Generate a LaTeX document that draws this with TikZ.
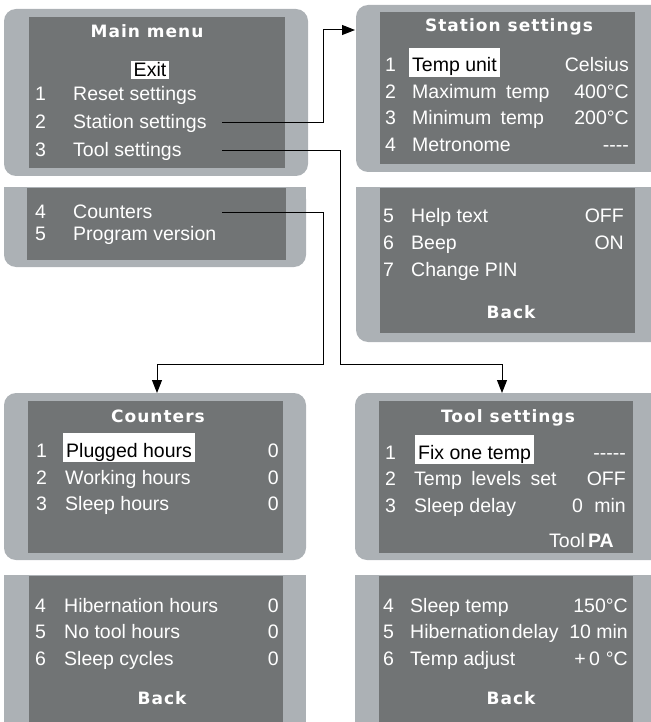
\documentclass[tikz,border=0pt]{standalone}
\usepackage{fontspec}
\setmainfont{Liberation Sans}
\newfontfamily\titlefont{DejaVu Sans}[LetterSpace=6]
\usepackage{tikz}
\usetikzlibrary{arrows.meta, positioning}
\definecolor{bezelgrey}{HTML}{ACB1B5}
\definecolor{lcdgrey}{HTML}{717475}

\begin{document}
\begin{tikzpicture}[x=1pt, y=-1pt,
    bezel/.style={fill=bezelgrey, rounded corners=12pt},
    lcd/.style={fill=lcdgrey},
    ttl/.style={text=white, anchor=base, inner sep=0pt,
                font=\titlefont\bfseries\fontsize{17}{17}\selectfont},
    itm/.style={text=white, anchor=base west, inner sep=0pt,
                font=\fontsize{19.5}{20}\selectfont},
    val/.style={itm, anchor=base east},
    sel/.style={itm, fill=white, text=black, inner xsep=3pt, inner ysep=0pt,
                text height=24pt, text depth=5pt},
    exitsel/.style={sel, anchor=base, text height=16pt, text depth=2pt},
    link/.style={draw=black, line width=1pt},
    tip/.style={-{Triangle[length=13pt, width=10pt]}}]
  \useasboundingbox (0,0) rectangle (650,722);

  % frames
  \fill[bezel] (4,9) rectangle (308,176);
  \fill[lcd] (29,17) rectangle (285,168);
  \fill[bezel] (4,187) rectangle (306,267);
  \fill[bezelgrey] (4,187) rectangle (306,215);
  \fill[lcd] (27,188) rectangle (286,260);

  \fill[bezel] (356,5) rectangle (670,172);
  \fill[lcd] (380,12) rectangle (635,164);
  \fill[bezel] (356,187) rectangle (670,342);
  \fill[bezelgrey] (356,187) rectangle (670,215);
  \fill[lcd] (380,188) rectangle (635,333);

  \fill[bezel] (4,393) rectangle (306,560);
  \fill[lcd] (28,401) rectangle (283,553);
  \fill[bezelgrey] (4,575) rectangle (306,730);
  \fill[lcd] (29,576) rectangle (283,730);

  \fill[bezel] (355,393) rectangle (670,560);
  \fill[lcd] (379,401) rectangle (633,553);
  \fill[bezelgrey] (355,575) rectangle (670,730);
  \fill[lcd] (379,576) rectangle (633,730);

  % main menu
  \node[ttl] (mmttl) at (147,38) {Main menu};
  \node[exitsel] (mmexit) at (150,77) {Exit};
  \foreach \n/\y/\t in {1/101/Reset settings, 2/129/Station settings,
      3/157/Tool settings, 4/218/Counters, 5/240/Program version} {
    \node[itm] (mmn\n) at (35,\y) {\n};
    \node[itm] (mml\n) at (73,\y) {\t};
  }

  % station settings
  \node[ttl] (stttl) at (509,32) {Station settings};
  \node[itm] (stn1) at (385,72) {1};
  \node[sel] (stl1) at (409,72) {Temp unit};
  \node[val] (stv1) at (629,72) {Celsius};
  \foreach \n/\y/\t/\v in {2/99/Maximum\hspace{4pt} temp/400°C,
      3/125/Minimum\hspace{4pt} temp/200°C, 4/152/Metronome/{-}{-}{-}{-}} {
    \node[itm] (stn\n) at (385,\y) {\n};
    \node[itm] (stl\n) at (412,\y) {\t};
    \node[val] (stv\n) at (629,\y) {\v};
  }
  \foreach \n/\y/\t/\v in {5/222/Help text/OFF, 6/249/Beep/ON, 7/276/Change PIN/} {
    \node[itm] (stn\n) at (383,\y) {\n};
    \node[itm] (stl\n) at (411,\y) {\t};
    \node[val] (stv\n) at (624,\y) {\v};
  }
  \node[ttl] (stback) at (511,318) {Back};

  % counters
  \node[ttl] (cnttl) at (158,422) {Counters};
  \node[itm] (cnn1) at (36,457) {1};
  \node[sel] (cnl1) at (63,457) {Plugged hours};
  \node[val] (cnv1) at (279,457) {0};
  \foreach \n/\y/\t in {2/484/Working hours, 3/510/Sleep hours} {
    \node[itm] (cnn\n) at (36,\y) {\n};
    \node[itm] (cnl\n) at (65,\y) {\t};
    \node[val] (cnv\n) at (279,\y) {0};
  }
  \foreach \n/\y/\t in {4/612/Hibernation hours, 5/638/No tool hours, 6/665/Sleep cycles} {
    \node[itm] (cnn\n) at (35,\y) {\n};
    \node[itm] (cnl\n) at (64,\y) {\t};
    \node[val] (cnv\n) at (279,\y) {0};
  }
  \node[ttl] (cnback) at (162,704) {Back};

  % tool settings
  \node[ttl] (tlttl) at (508,422) {Tool settings};
  \node[itm] (tln1) at (385,459) {1};
  \node[sel] (tll1) at (415,459) {Fix one temp};
  \node[val] (tlv1) at (626,459) {{-}{-}{-}{-}{-}};
  \foreach \n/\y/\t/\v in {2/485/Temp\hspace{4pt} levels\hspace{4pt} set/OFF,
      3/512/Sleep delay/0\hspace{6pt} min} {
    \node[itm] (tln\n) at (385,\y) {\n};
    \node[itm] (tll\n) at (414,\y) {\t};
    \node[val] (tlv\n) at (626,\y) {\v};
  }
  \node[val] (tlpa) at (614,547) {Tool\,{\bfseries PA}};
  \foreach \n/\y/\t/\v in {4/612/Sleep temp/150°C,
      5/638/Hibernation\hspace{2pt}delay/10 min,
      6/665/Temp adjust/+\,0\hspace{6pt}°C} {
    \node[itm] (tln\n) at (383,\y) {\n};
    \node[itm] (tll\n) at (410,\y) {\t};
    \node[val] (tlv\n) at (628,\y) {\v};
  }
  \node[ttl] (tlback) at (511,704) {Back};

  % links
  \coordinate (fromst) at (222,123);
  \coordinate (turnst) at (323,30);
  \coordinate (sttip) at (355,30);
  \coordinate (fromtl) at (222,151);
  \coordinate (turntl) at (340,364);
  \coordinate (tltip) at (502,393);
  \coordinate (fromcn) at (222,212);
  \coordinate (turncn) at (323,364);
  \coordinate (cntip) at (157,393);
  \draw[link, tip] (fromst) -| (turnst) -- (sttip);
  \draw[link, tip] (fromtl) -| (turntl) -| (tltip);
  \draw[link, tip] (fromcn) -| (turncn) -| (cntip);
\end{tikzpicture}
\end{document}
